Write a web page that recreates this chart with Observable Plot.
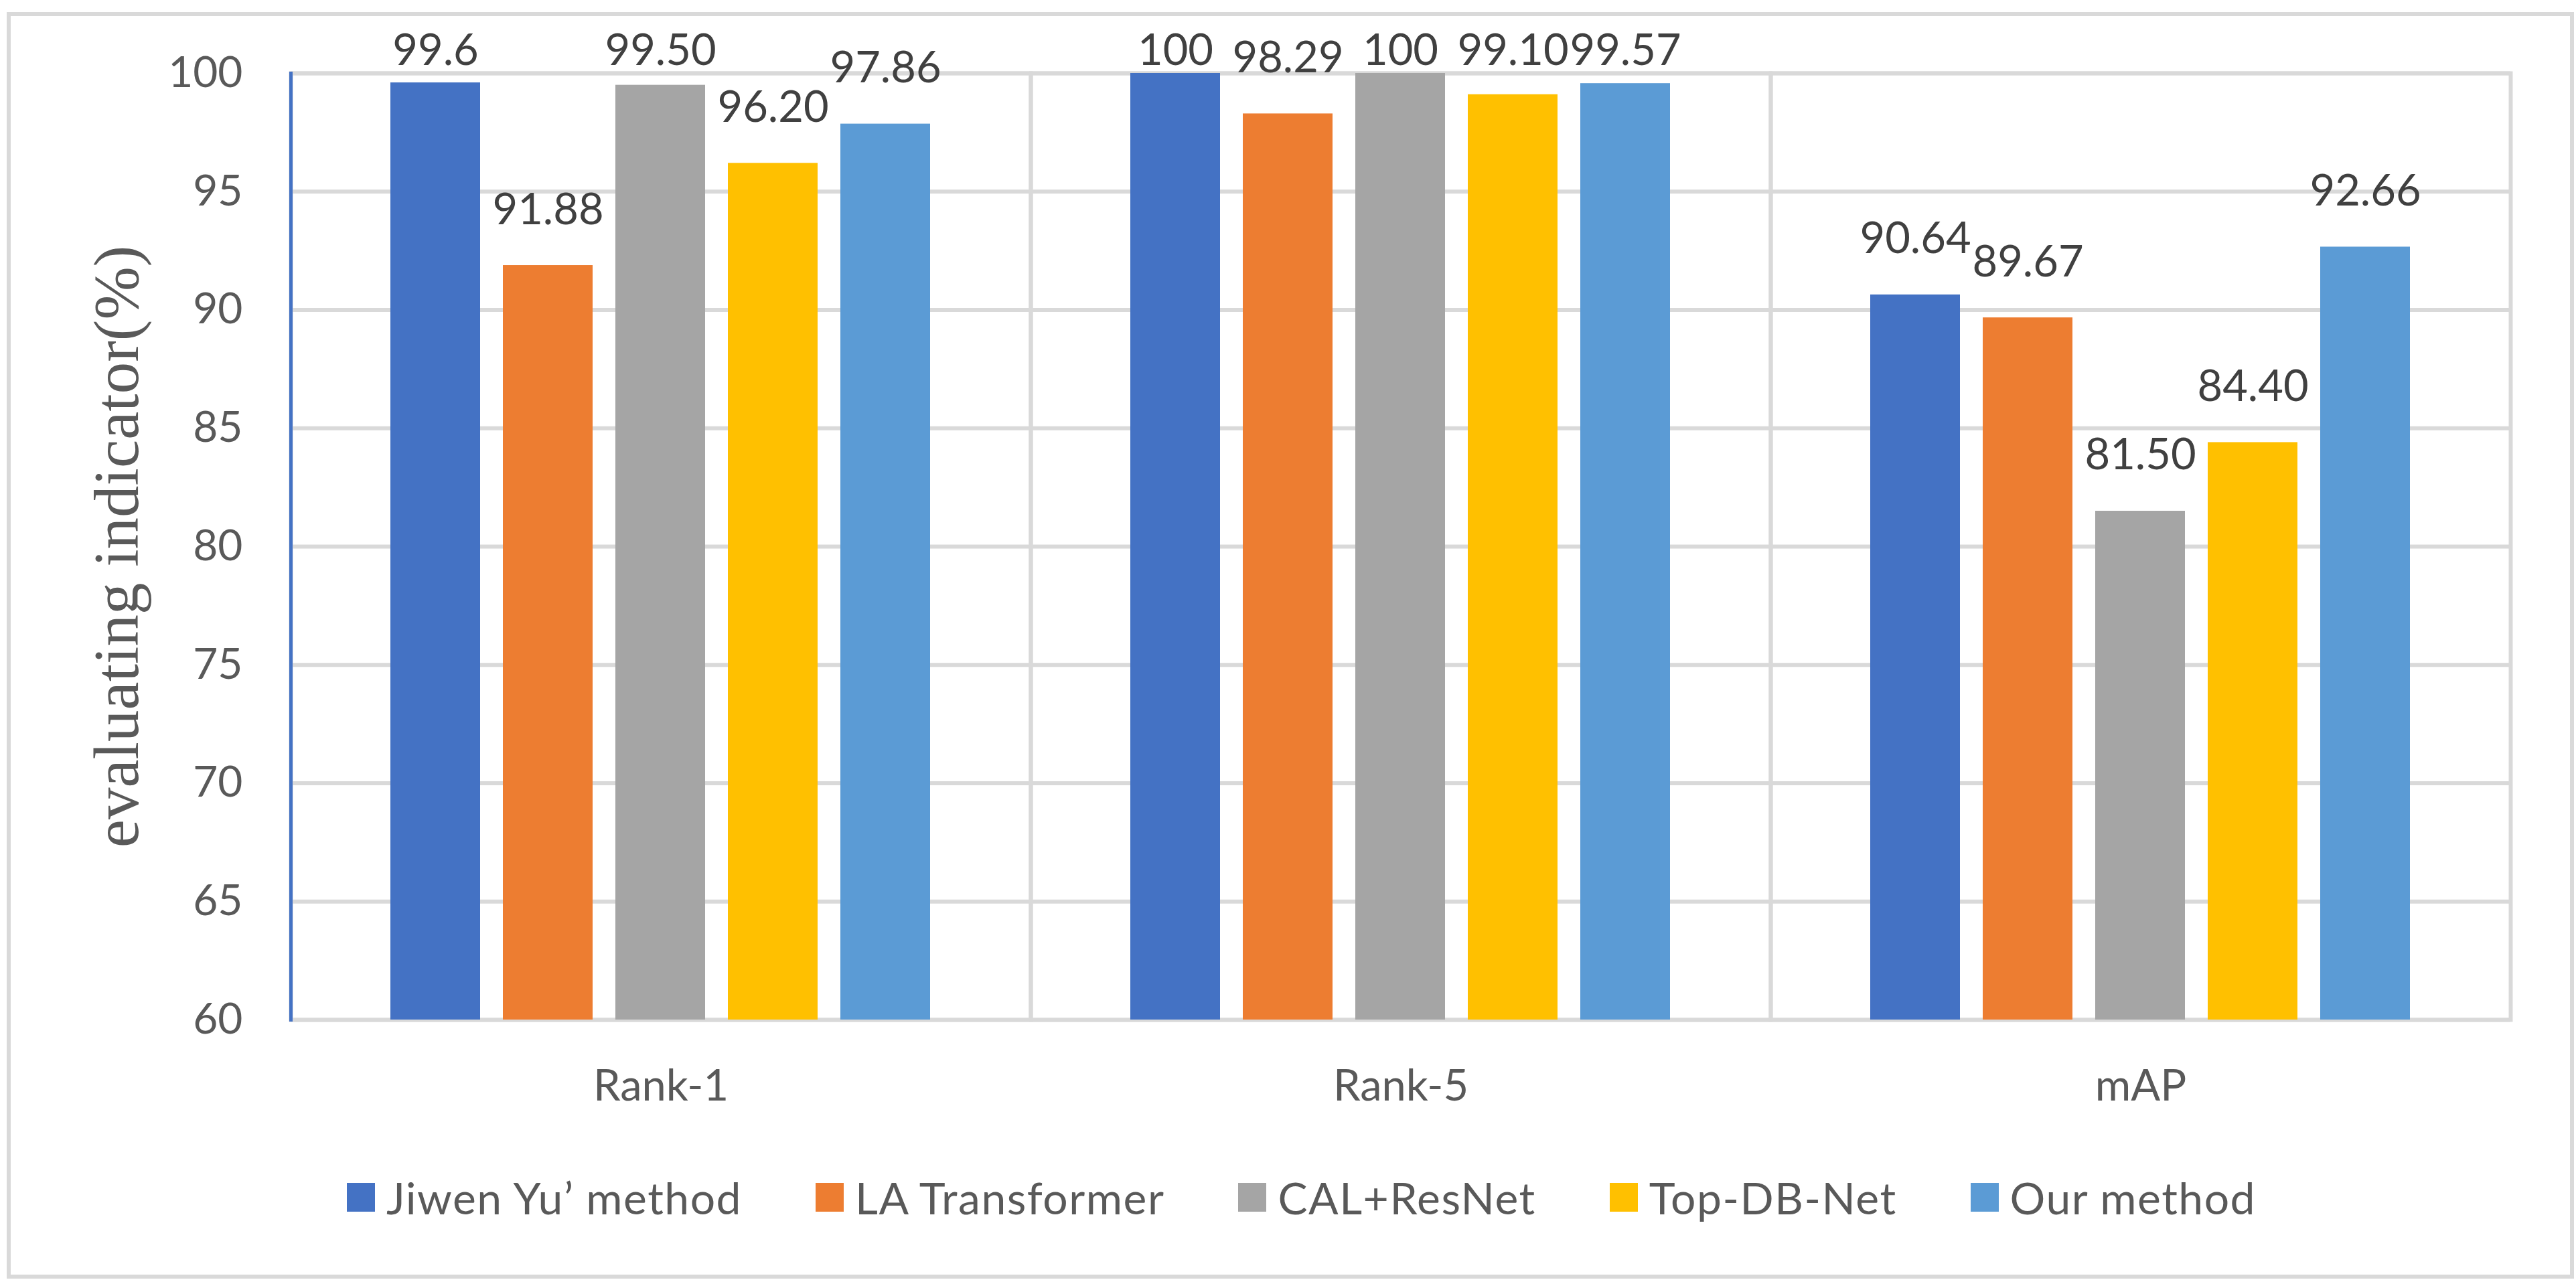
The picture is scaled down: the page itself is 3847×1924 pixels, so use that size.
<!DOCTYPE html>
<html>
<head>
<meta charset="utf-8">
<script src="https://cdn.jsdelivr.net/npm/d3@7"></script>
<script src="https://cdn.jsdelivr.net/npm/@observablehq/plot@0.6"></script>
<style>
  html, body { margin: 0; padding: 0; background: white; overflow: hidden; }
  #frame { position: absolute; left: 10px; top: 18px; width: 3834px; height: 1892px; box-sizing: border-box; border: 6px solid #d9d9d9; pointer-events: none; }
  #chart { position: absolute; left: 0; top: 0; }
  #legend { position: absolute; left: 20px; top: 1755px; width: 3847px; height: 66px; display: flex; justify-content: center; align-items: center; font-family: Lato, "Noto Sans", sans-serif; font-size: 66px; letter-spacing: 1.5px; color: #595959; }
  .item { display: flex; align-items: center; margin: 0 55px; }
  .sw { width: 42px; height: 43px; margin-right: 17px; }
</style>
</head>
<body>
<div id="frame"></div>
<div id="chart"></div>
<div id="legend"></div>
<script>
const categories = ["Rank-1", "Rank-5", "mAP"];
const methods = ["Jiwen Yu\u2019 method", "LA Transformer", "CAL+ResNet", "Top-DB-Net", "Our method"];
const colors = ["#4472C4", "#ED7D31", "#A5A5A5", "#FFC000", "#5B9BD5"];
const rank1 = [99.6, 91.88, 99.50, 96.20, 97.86];
const rank5 = [100, 98.29, 100, 99.10, 99.57];
const mAP = [90.64, 89.67, 81.50, 84.40, 92.66];
const rank1Labels = ["99.6", "91.88", "99.50", "96.20", "97.86"];
const rank5Labels = ["100", "98.29", "100", "99.10", "99.57"];
const mAPLabels = ["90.64", "89.67", "81.50", "84.40", "92.66"];
const yTicks = [60, 65, 70, 75, 80, 85, 90, 95, 100];
const yLabel = "evaluating indicator(%)";
const labelCeiling = 98.59; // labels that would leave the chart are held at this level

const series = [rank1, rank5, mAP];
const seriesLabels = [rank1Labels, rank5Labels, mAPLabels];
const data = [];
categories.forEach((c, i) => methods.forEach((m, j) => {
  data.push({category: c, method: m, value: series[i][j], label: seriesLabels[i][j]});
}));

const plot = Plot.plot({
  width: 3847,
  height: 1700,
  marginLeft: 433,
  marginRight: 97,
  marginTop: 109,
  marginBottom: 177,
  style: {fontFamily: "Lato, 'Noto Sans', sans-serif", background: "transparent", overflow: "visible"},
  fx: {domain: categories, padding: 0, label: null},
  x: {domain: methods, paddingInner: 0.2, paddingOuter: 0.87, axis: null},
  y: {domain: [yTicks[0], yTicks[yTicks.length - 1]]},
  color: {domain: methods, range: colors},
  marks: [
    Plot.gridY(yTicks, {stroke: "#d9d9d9", strokeOpacity: 1, strokeWidth: 6}),
    Plot.frame({stroke: "#d9d9d9", strokeWidth: 6}),
    Plot.barY(data, {fx: "category", x: "method", y1: yTicks[0], y2: "value", fill: "method"}),
    Plot.frame({anchor: "left", fx: categories[0], stroke: "#4472C4", strokeWidth: 5}),
    Plot.text(data, {fx: "category", x: "method", y: d => Math.min(d.value, labelCeiling), text: "label",
      lineAnchor: "bottom", dy: -62, fontSize: 65, fill: "#404040"}),
    Plot.axisY(yTicks, {tickSize: 0, tickPadding: 72, fontSize: 64, fill: "#595959", label: null}),
    Plot.axisY({ticks: [], tickSize: 0, label: yLabel, labelAnchor: "center", labelArrow: false, labelOffset: 296,
      fontSize: 95, fontFamily: "'Liberation Serif', 'DejaVu Serif', serif", fill: "#595959"}),
    Plot.axisFx({anchor: "bottom", tickSize: 0, tickPadding: 74, fontSize: 65, fill: "#595959", label: null})
  ]
});
document.getElementById("chart").appendChild(plot);

const legend = document.getElementById("legend");
methods.forEach((m, i) => {
  const item = document.createElement("div");
  item.className = "item";
  const sw = document.createElement("div");
  sw.className = "sw";
  sw.style.background = colors[i];
  const t = document.createElement("span");
  t.textContent = m;
  item.appendChild(sw);
  item.appendChild(t);
  legend.appendChild(item);
});
</script>
</body>
</html>
